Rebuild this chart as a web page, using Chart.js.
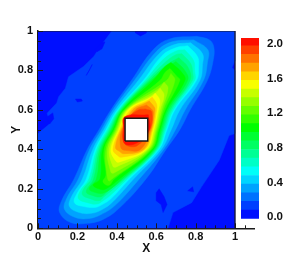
<!DOCTYPE html>
<html>
<head>
<meta charset="utf-8">
<script src="https://cdn.jsdelivr.net/npm/chart.js@4"></script>
<style>
  html, body { margin: 0; padding: 0; background: #fff; }
  canvas { position: absolute; top: 0; filter: blur(0.3px); }
  #plot { left: 0; }
  #legend { left: 241px; }
</style>
</head>
<body>
<canvas id="plot" width="289" height="257"></canvas>
<canvas id="legend" width="48" height="257"></canvas>
<script>
// contour outlines, [x, y] in axis units
const box = [[0,0],[1,0],[1,1],[0,1]];
const hole = [[0.442,0.443],[0.557,0.443],[0.557,0.558],[0.442,0.558]];
const frame = [[0,1],[1,1],[1,0]];

const lvl01 = [[0.375,1],[0.33,0.94],[0.282,0.87],[0.231,0.82],[0.155,0.768],[0.139,0.71],[0.105,0.667],[0.095,0.635],[0.046,0.583],[0.0625,0.532],[0,0.48],[0,0],[0.66,0],[0.685,0.08],[0.78,0.13],[0.83,0.21],[0.87,0.27],[0.92,0.345],[0.95,0.42],[0.97,0.47],[1,0.48],[1,0.8],[0.985,0.815],[1,0.85],[1,1]];
const patchA = [[0.29,0.905],[0.315,0.935],[0.34,0.945],[0.325,0.91],[0.3,0.895]];
const patchB = [[0.245,0.775],[0.265,0.81],[0.275,0.83],[0.26,0.8]];
const patchC = [[0.19,0.655],[0.22,0.655],[0.225,0.645],[0.2,0.64]];
const patchD = [[0.04,0.56],[0.075,0.585],[0.08,0.555],[0.06,0.53]];
const patchE = [[0.6,0.18],[0.615,0.2],[0.64,0.16],[0.655,0.12],[0.635,0.08],[0.625,0.12],[0.6,0.14]];
const patchF = [[0.76,0.19],[0.785,0.21],[0.79,0.185]];
const patchG = [[0.495,0.99],[0.52,0.975],[0.55,0.99],[0.55,1],[0.495,1]];

const lvl02 = [[0.806,0.973],[0.87,0.955],[0.892,0.92],[0.89,0.855],[0.86,0.75],[0.772,0.6],[0.72,0.5],[0.65,0.4],[0.548,0.25],[0.41,0.1],[0.33,0.045],[0.25,0.025],[0.165,0.03],[0.11,0.08],[0.12,0.14],[0.183,0.25],[0.25,0.4],[0.31,0.5],[0.37,0.6],[0.475,0.75],[0.585,0.905],[0.67,0.96]];
const lvl03 = [[0.79,0.955],[0.862,0.905],[0.86,0.84],[0.84,0.75],[0.747,0.6],[0.698,0.5],[0.638,0.4],[0.514,0.25],[0.39,0.115],[0.32,0.07],[0.26,0.05],[0.19,0.055],[0.135,0.095],[0.145,0.15],[0.205,0.25],[0.262,0.4],[0.322,0.5],[0.38,0.6],[0.49,0.75],[0.6,0.895],[0.68,0.945]];
const lvl04 = [[0.775,0.94],[0.835,0.885],[0.835,0.83],[0.822,0.75],[0.72,0.6],[0.676,0.5],[0.626,0.4],[0.485,0.25],[0.38,0.135],[0.325,0.095],[0.27,0.076],[0.21,0.08],[0.16,0.11],[0.17,0.16],[0.225,0.25],[0.278,0.4],[0.334,0.5],[0.392,0.6],[0.51,0.75],[0.615,0.885],[0.69,0.93]];
const lvl05 = [[0.76,0.925],[0.81,0.87],[0.815,0.82],[0.805,0.75],[0.695,0.6],[0.655,0.5],[0.614,0.4],[0.464,0.25],[0.37,0.15],[0.325,0.12],[0.29,0.106],[0.235,0.11],[0.185,0.13],[0.2,0.18],[0.245,0.25],[0.29,0.4],[0.345,0.5],[0.403,0.6],[0.535,0.75],[0.63,0.875],[0.7,0.915]];
const lvl06 = [[0.745,0.905],[0.79,0.85],[0.795,0.8],[0.795,0.75],[0.687,0.6],[0.648,0.5],[0.608,0.4],[0.453,0.25],[0.365,0.165],[0.33,0.14],[0.3,0.123],[0.25,0.13],[0.205,0.15],[0.215,0.19],[0.258,0.25],[0.298,0.4],[0.352,0.5],[0.409,0.6],[0.545,0.75],[0.64,0.86],[0.705,0.9]];
const lvl07 = [[0.73,0.885],[0.775,0.835],[0.785,0.79],[0.784,0.75],[0.678,0.6],[0.641,0.5],[0.602,0.4],[0.443,0.25],[0.36,0.18],[0.335,0.16],[0.31,0.14],[0.265,0.15],[0.225,0.17],[0.235,0.205],[0.27,0.25],[0.306,0.4],[0.36,0.5],[0.414,0.6],[0.555,0.75],[0.65,0.845],[0.7,0.88]];
const lvl08 = [[0.715,0.865],[0.762,0.815],[0.772,0.75],[0.67,0.6],[0.634,0.5],[0.597,0.4],[0.435,0.25],[0.355,0.19],[0.32,0.16],[0.28,0.165],[0.245,0.185],[0.282,0.25],[0.314,0.4],[0.367,0.5],[0.42,0.6],[0.565,0.75],[0.655,0.83]];
const lvl09 = [[0.7,0.845],[0.745,0.8],[0.76,0.75],[0.661,0.6],[0.627,0.5],[0.591,0.4],[0.426,0.25],[0.37,0.2],[0.33,0.178],[0.295,0.18],[0.26,0.2],[0.296,0.25],[0.321,0.4],[0.373,0.5],[0.425,0.6],[0.575,0.75],[0.655,0.815]];
const lvl10 = [[0.675,0.84],[0.73,0.79],[0.746,0.75],[0.653,0.6],[0.62,0.5],[0.585,0.4],[0.413,0.25],[0.34,0.198],[0.31,0.2],[0.28,0.22],[0.315,0.25],[0.328,0.4],[0.38,0.5],[0.43,0.6],[0.585,0.75],[0.64,0.815]];
const lvl11 = [[0.67,0.81],[0.705,0.77],[0.72,0.75],[0.645,0.6],[0.613,0.5],[0.578,0.4],[0.387,0.25],[0.36,0.218],[0.33,0.235],[0.345,0.27],[0.336,0.4],[0.386,0.5],[0.436,0.6],[0.62,0.75],[0.645,0.79]];
const lvl12 = [[0.675,0.785],[0.695,0.75],[0.636,0.6],[0.607,0.5],[0.571,0.4],[0.375,0.25],[0.36,0.24],[0.35,0.27],[0.345,0.4],[0.392,0.5],[0.441,0.6],[0.653,0.75]];
const lvl13 = [[0.64,0.74],[0.66,0.71],[0.628,0.6],[0.601,0.5],[0.564,0.4],[0.385,0.28],[0.37,0.285],[0.353,0.4],[0.398,0.5],[0.447,0.6],[0.615,0.71]];
const lvl14 = [[0.62,0.71],[0.64,0.675],[0.619,0.6],[0.595,0.5],[0.557,0.4],[0.395,0.31],[0.38,0.315],[0.362,0.4],[0.404,0.5],[0.452,0.6],[0.595,0.685]];
const lvl15 = [[0.595,0.685],[0.618,0.65],[0.611,0.6],[0.588,0.5],[0.55,0.4],[0.41,0.335],[0.392,0.345],[0.37,0.4],[0.41,0.5],[0.458,0.6],[0.575,0.665]];
const lvl16 = [[0.58,0.665],[0.602,0.63],[0.602,0.6],[0.582,0.5],[0.543,0.4],[0.425,0.36],[0.403,0.37],[0.381,0.4],[0.416,0.5],[0.469,0.6],[0.56,0.65]];
const lvl17 = [[0.565,0.645],[0.59,0.615],[0.594,0.6],[0.577,0.5],[0.535,0.4],[0.435,0.378],[0.413,0.39],[0.393,0.41],[0.422,0.5],[0.48,0.6],[0.545,0.635]];
const lvl18 = [[0.55,0.625],[0.58,0.6],[0.585,0.58],[0.572,0.5],[0.52,0.4],[0.445,0.395],[0.42,0.41],[0.427,0.5],[0.494,0.6]];
const lvl19 = [[0.545,0.605],[0.577,0.59],[0.567,0.5],[0.505,0.42],[0.45,0.42],[0.432,0.45],[0.432,0.5],[0.46,0.56],[0.509,0.6]];
const lvl20 = [[0.56,0.575],[0.565,0.5],[0.5,0.432],[0.44,0.43],[0.435,0.5],[0.44,0.565]];

const bandColors = ["#000fff","#0040ff","#0072ff","#00a3ff","#00d5ff","#00fff8","#00ffc6","#00ff95","#00ff63","#00ff32","#00ff00","#32ff00","#63ff00","#95ff00","#c6ff00","#f8ff00","#ffd500","#ffa300","#ff7200","#ff4000","#ff0f00"];
const bandEdges = [-0.02,0.08,0.18,0.28,0.38,0.48,0.58,0.68,0.78,0.88,0.98,1.08,1.18,1.28,1.38,1.48,1.58,1.68,1.78,1.88,1.98,2.07];
const legendTicks = [0,0.4,0.8,1.2,1.6,2.0];
const xMajor = [0,0.2,0.4,0.6,0.8,1];
const xMinor = [0.05,0.1,0.15,0.25,0.3,0.35,0.45,0.5,0.55,0.65,0.7,0.75,0.85,0.9,0.95,1.05];
const yMajor = [0,0.2,0.4,0.6,0.8,1];
const yMinor = [0.05,0.1,0.15,0.25,0.3,0.35,0.45,0.5,0.55,0.65,0.7,0.75,0.85,0.9,0.95];

const ink = "#1a1a1a";
const labelFont = { family: "'Liberation Sans', Arial, sans-serif", size: 11, weight: "bold" };

function shape(points, color, smooth) {
    return {
        data: points.concat([points[0]]).map(p => ({ x: p[0], y: p[1] })),
        showLine: true,
        fill: "shape",
        backgroundColor: color,
        borderColor: color,
        borderWidth: 0.5,
        pointRadius: 0,
        tension: smooth ? 0.4 : 0
    };
}

// first dataset ends up on top
const datasets = [];
const holeSet = shape(hole, "#ffffff", false);
holeSet.borderColor = ink;
holeSet.borderWidth = 1.5;
datasets.push(holeSet);
datasets.push({
    data: frame.map(p => ({ x: p[0], y: p[1] })),
    showLine: true, fill: false, borderColor: ink, borderWidth: 1.2, pointRadius: 0, tension: 0
});
const contours = [lvl20,lvl19,lvl18,lvl17,lvl16,lvl15,lvl14,lvl13,lvl12,lvl11,lvl10,lvl09,lvl08,lvl07,lvl06,lvl05,lvl04,lvl03,lvl02];
contours.forEach((c, i) => datasets.push(shape(c, bandColors[20 - i], true)));
[patchA,patchB,patchC,patchD,patchE,patchF,patchG].forEach(p => datasets.push(shape(p, bandColors[0], false)));
datasets.push(shape(lvl01, bandColors[1], false));
datasets.push(shape(box, bandColors[0], false));

// Tecplot style ticks point inward
const inwardTicks = {
    id: "inwardTicks",
    afterDraw(chart) {
        const ctx = chart.ctx, sx = chart.scales.x, sy = chart.scales.y;
        const bottom = sy.getPixelForValue(0), left = sx.getPixelForValue(0);
        ctx.save();
        ctx.strokeStyle = ink;
        ctx.lineWidth = 1;
        const vert = (v, len) => {
            const px = Math.round(sx.getPixelForValue(v)) + 0.5;
            ctx.beginPath(); ctx.moveTo(px, bottom); ctx.lineTo(px, bottom - len); ctx.stroke();
        };
        const horiz = (v, len) => {
            const py = Math.round(sy.getPixelForValue(v)) + 0.5;
            ctx.beginPath(); ctx.moveTo(left, py); ctx.lineTo(left + len, py); ctx.stroke();
        };
        xMajor.forEach(v => vert(v, 5));
        xMinor.forEach(v => vert(v, 3));
        yMajor.forEach(v => horiz(v, 5));
        yMinor.forEach(v => horiz(v, 3));
        ctx.restore();
    }
};

new Chart(document.getElementById("plot"), {
    type: "scatter",
    data: { datasets: datasets },
    options: {
        responsive: false,
        animation: false,
        layout: { padding: { top: 31, right: 34.3, left: 0, bottom: 0 } },
        plugins: { legend: { display: false }, tooltip: { enabled: false } },
        scales: {
            x: {
                type: "linear", min: 0, max: 1.1,
                afterFit: s => { s.height = 28.7; },
                grid: { display: false, drawTicks: false },
                border: { color: ink, width: 1.5 },
                ticks: { stepSize: 0.2, includeBounds: false, maxRotation: 0, color: "#111", font: labelFont, padding: 2,
                    callback: v => v > 1 ? "" : String(Number(v.toFixed(1))) },
                title: { display: true, text: "X", color: "#111", font: { family: labelFont.family, size: 12, weight: "bold" }, padding: { top: 0, bottom: 1 } }
            },
            y: {
                type: "linear", min: 0, max: 1,
                afterFit: s => { s.width = 38; },
                grid: { display: false, drawTicks: false },
                border: { color: ink, width: 1.5 },
                ticks: { stepSize: 0.2, color: "#111", font: labelFont, padding: 5,
                    callback: v => String(Number(v.toFixed(1))) },
                title: { display: true, text: "Y", color: "#111", font: { family: labelFont.family, size: 12, weight: "bold" }, padding: { top: 9, bottom: 0 } }
            }
        }
    },
    plugins: [inwardTicks]
});

new Chart(document.getElementById("legend"), {
    type: "bar",
    data: {
        labels: [""],
        datasets: bandColors.map((c, i) => ({
            data: [[bandEdges[i], bandEdges[i + 1]]],
            backgroundColor: c,
            borderWidth: 0,
            barPercentage: 1,
            categoryPercentage: 1,
            grouped: false
        }))
    },
    options: {
        responsive: false,
        animation: false,
        layout: { padding: { top: 38, bottom: 38.3, left: 0, right: 0 } },
        plugins: { legend: { display: false }, tooltip: { enabled: false } },
        scales: {
            x: { display: false },
            y: {
                position: "right",
                min: -0.02, max: 2.07,
                afterFit: s => { s.width = 30; },
                afterBuildTicks: s => { s.ticks = legendTicks.map(v => ({ value: v })); },
                grid: { display: false, drawTicks: false },
                border: { display: false },
                ticks: { color: "#111", padding: 8, font: { family: labelFont.family, size: 11.5, weight: "bold" },
                    callback: v => v.toFixed(1) }
            }
        }
    }
});
</script>
</body>
</html>
